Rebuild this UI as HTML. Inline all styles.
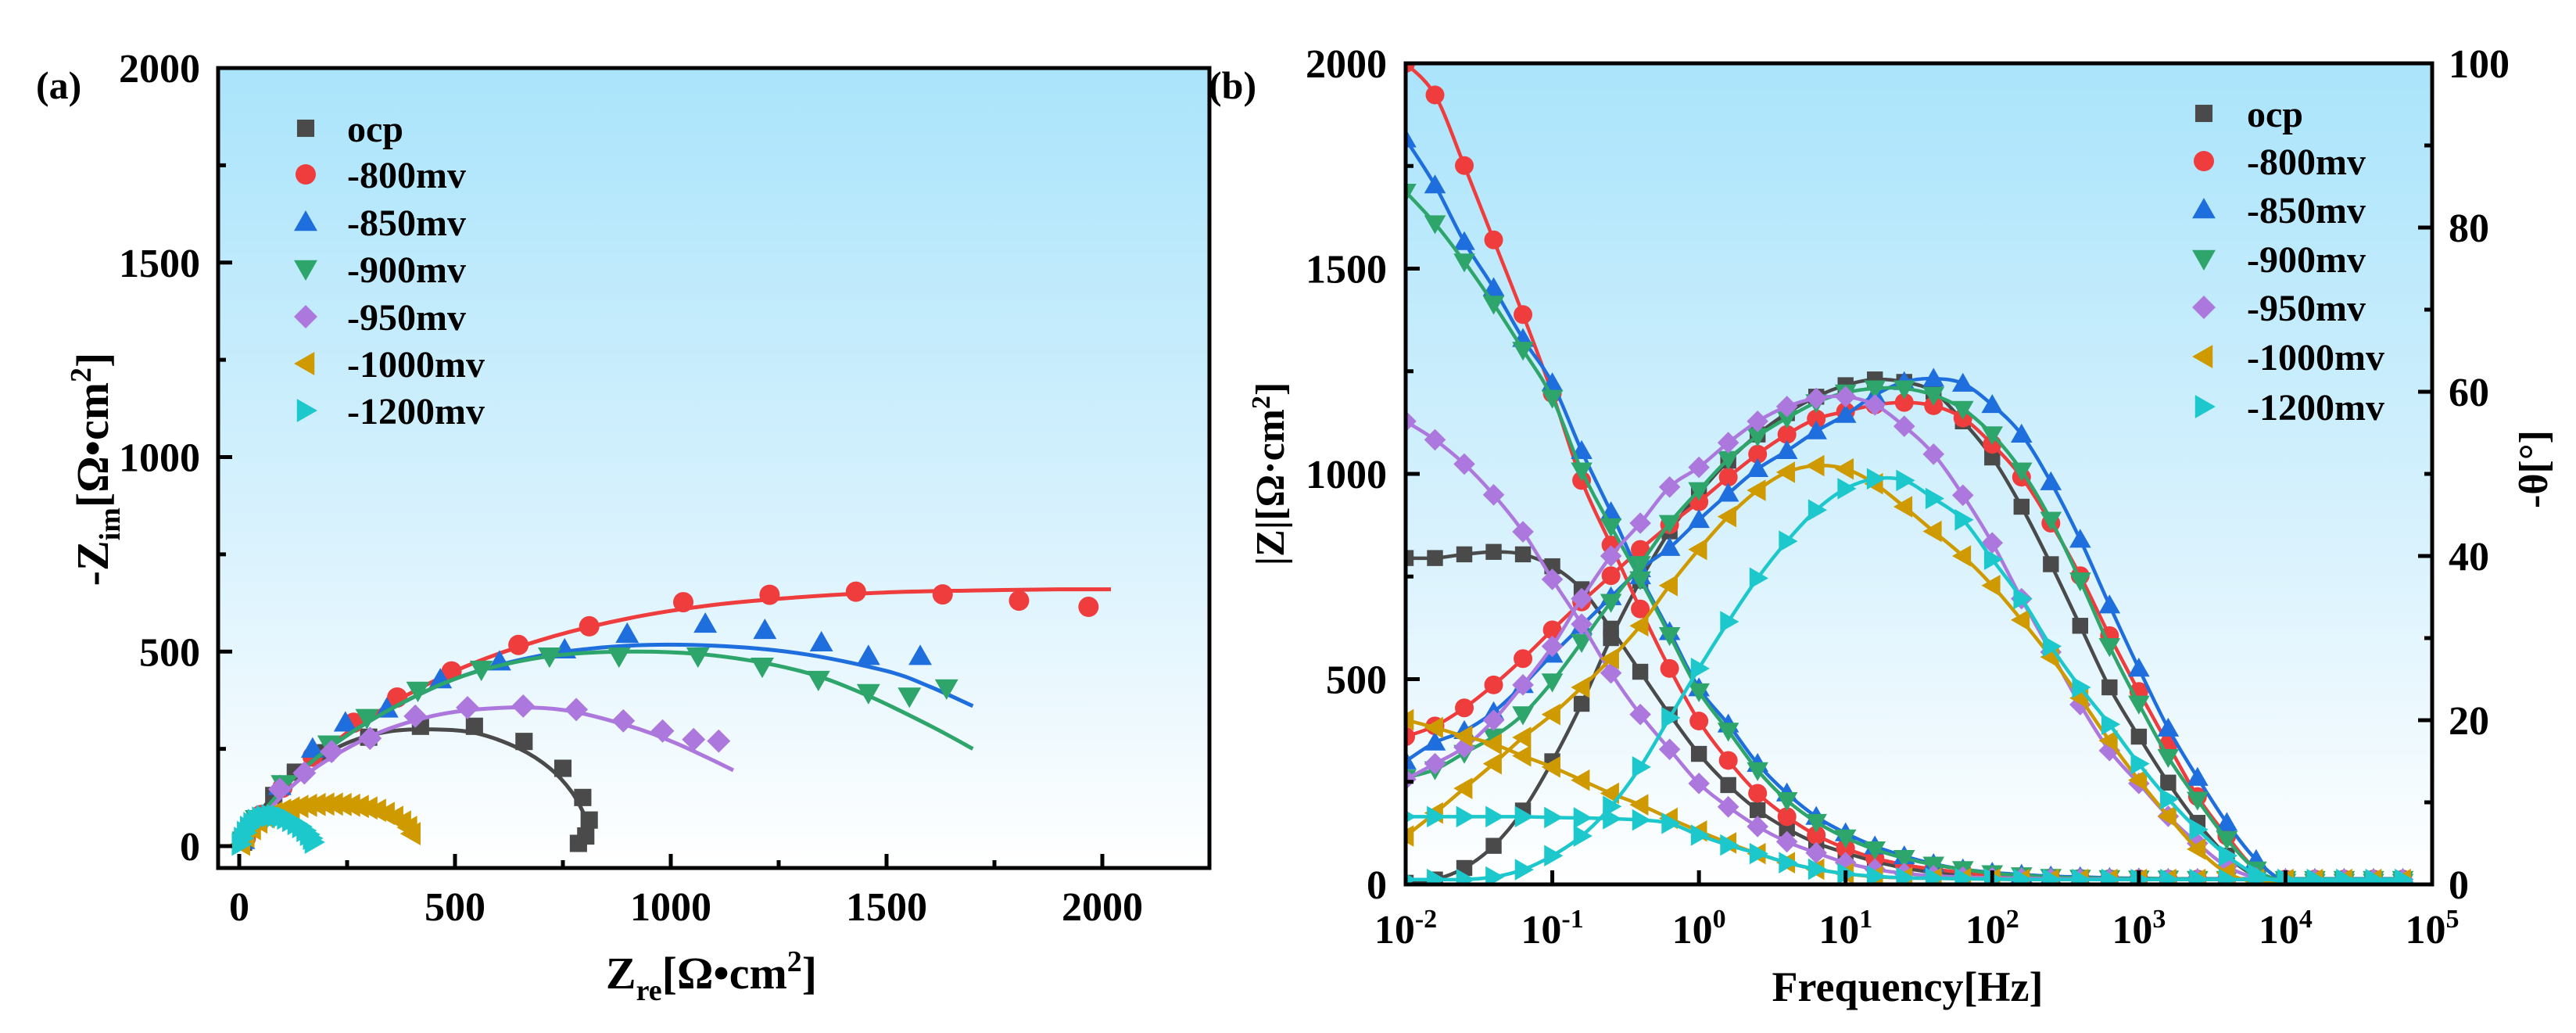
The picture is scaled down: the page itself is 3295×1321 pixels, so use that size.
<!DOCTYPE html>
<html><head><meta charset="utf-8"><style>
html,body{margin:0;padding:0;background:#fff;}
svg{display:block;font-family:"Liberation Serif",serif;font-weight:bold;}
</style></head><body>
<svg id="chart" width="3295" height="1321" viewBox="0 0 3295 1321" xmlns="http://www.w3.org/2000/svg">
<defs>
<linearGradient id="bg" x1="0" y1="0" x2="0" y2="1">
<stop offset="0" stop-color="#aae4fb"/><stop offset="0.55" stop-color="#d6f1fd"/><stop offset="1" stop-color="#ffffff"/>
</linearGradient>
<clipPath id="clipA"><rect x="279" y="87" width="1268" height="1023"/></clipPath>
<clipPath id="clipB"><rect x="1798" y="81" width="1313" height="1050"/></clipPath>
</defs>
<rect x="279" y="87" width="1268" height="1023" fill="url(#bg)"/>
<rect x="1798" y="81" width="1313" height="1050" fill="url(#bg)"/>
<g id="layerA" clip-path="url(#clipA)"></g>
<g id="layerB" clip-path="url(#clipB)"></g>
<g id="axes"></g>
<text x="46" y="126" font-size="50">(a)</text>
<text x="1546" y="126" font-size="50">(b)</text>
<text transform="translate(138,600) rotate(-90)" text-anchor="middle" font-size="58">-Z<tspan font-size="38" dy="15">im</tspan><tspan dy="-15">[Ω•cm</tspan><tspan font-size="38" dy="-22">2</tspan><tspan dy="22">]</tspan></text>
<text x="910" y="1264" text-anchor="middle" font-size="58">Z<tspan font-size="38" dy="15">re</tspan><tspan dy="-15">[Ω•cm</tspan><tspan font-size="38" dy="-22">2</tspan><tspan dy="22">]</tspan></text>
<text transform="translate(1642,606) rotate(-90)" text-anchor="middle" font-size="52">|Z|[Ω·cm<tspan font-size="34" dy="-18">2</tspan><tspan dy="18">]</tspan></text>
<text x="2440" y="1280" text-anchor="middle" font-size="54">Frequency[Hz]</text>
<text transform="translate(3258,600) rotate(-90)" text-anchor="middle" font-size="52">-θ[°]</text>
<g id="legends"></g>
</svg>
<script>
const NS='http://www.w3.org/2000/svg';
const seriesNames=['ocp','-800mv','-850mv','-900mv','-950mv','-1000mv','-1200mv'];
const seriesColors=['#4a4a4a','#ef3c3c','#1e6ede','#2ea56a','#ad78de','#cf9a00','#1cc8cc'];
const seriesShapes=['square','circle','up','down','diamond','left','right'];
// Nyquist data (Zre, -Zim)
const nyqX=[
 [10,40,80,130,200,300,420,545,660,750,796,811,803,786],
 [15,50,100,170,265,366,492,647,811,1029,1229,1429,1630,1807,1968],
 [10,40,94,170,246,342,466,603,754,899,1080,1218,1349,1458,1578],
 [10,40,100,208,296,414,561,719,880,1063,1212,1342,1458,1553,1639],
 [10,40,94,151,214,303,408,529,658,781,890,981,1053,1111],
 [5,15,30,45,62,80,100,120,140,160,180,200,220,240,260,280,300,320,340,360,378,392,400],
 [3,8,15,22,30,40,50,60,72,84,96,108,120,132,143,153,161,168,172]];
const nyqY=[
 [10,70,130,190,240,280,308,308,269,200,125,67,26,7],
 [20,80,150,230,317,382,449,517,565,627,646,654,647,631,615],
 [15,70,154,250,317,353,428,474,505,545,571,555,523,488,488],
 [15,70,160,262,330,400,454,488,488,488,462,428,394,385,406],
 [15,70,146,188,243,277,334,356,360,351,322,296,274,270],
 [5,25,45,62,75,85,92,98,102,105,107,108,108,107,105,102,98,92,84,74,62,48,32],
 [5,20,35,48,58,66,72,76,78,78,76,72,66,58,50,40,30,20,10]];
const fitX=[
 [0,30,80,150,250,350,450,550,650,720,770,800,815],
 [0,50,150,300,500,700,900,1100,1300,1500,1700,1900,2020],
 [0,50,150,300,500,700,900,1100,1300,1500,1600,1700],
 [0,50,150,300,500,700,900,1100,1300,1450,1600,1700],
 [0,50,150,300,450,600,750,900,1000,1080,1145],
 [0,50,100,200,300,350,380,400],
 [0,20,50,90,130,160,175]];
const fitY=[
 [0,60,130,200,265,295,300,290,250,200,140,80,40],
 [0,80,200,330,450,530,585,620,640,652,657,660,660],
 [0,80,200,320,430,490,515,515,495,450,410,360],
 [0,80,200,320,430,485,500,490,450,390,310,250],
 [0,70,180,280,335,355,350,310,270,230,195],
 [0,70,95,107,100,85,65,35],
 [0,45,70,78,68,45,20]];
// Bode data: log10(freq) grid
const logF=[-2,-1.8,-1.6,-1.4,-1.2,-1,-0.8,-0.6,-0.4,-0.2,0,0.2,0.4,0.6,0.8,1,1.2,1.4,1.6,1.8,2,2.2,2.4,2.6,2.8,3,3.2,3.4,3.6,3.8,4,4.2,4.4,4.6,4.8];
const modZ=[
 [795,795,804,810,804,775,719,623,518,414,318,242,181,136,101,77,56,40,29,21,16,15,14,13,12,12,12,12,12,12,12,12,12,12,12],
 [2000,1923,1751,1570,1388,1196,984,827,671,526,398,302,222,165,120,88,64,48,37,29,21,18,16,15,14,14,13,13,13,13,13,13,13,13,13],
 [1815,1703,1565,1453,1329,1221,1056,907,751,615,478,390,294,222,165,125,93,69,50,37,29,24,20,18,16,15,14,14,14,14,14,14,14,14,14],
 [1687,1610,1517,1414,1302,1185,1008,872,743,607,470,374,278,205,152,114,85,64,48,37,27,22,18,16,15,14,14,13,13,13,13,13,13,13,13],
 [1128,1083,1024,949,859,743,634,515,414,329,246,189,141,104,77,53,37,27,21,18,16,15,14,13,13,12,12,12,12,12,12,12,12,12,12],
 [401,382,361,342,313,286,254,222,194,161,130,101,75,53,37,26,19,16,15,14,13,12,12,12,12,12,12,12,12,12,12,12,12,12,12],
 [165,165,165,165,165,163,162,160,157,149,120,96,75,53,37,26,20,16,15,14,13,12,12,12,12,12,12,12,12,12,12,12,12,12,12]];
const phase=[
 [0.2,0.6,2,4.7,9,15,22,30,37,43,47.6,51.6,54.8,57.4,59.4,60.8,61.5,61.2,60,56.4,52,46,39,31.5,24,18,12.4,7.5,3.5,1,0.3,0.3,0.3,0.3,0.3],
 [18,19.3,21.5,24.3,27.5,31,34.4,37.6,40.8,43.8,46.6,49.6,52.4,54.8,56.7,57.6,58.4,58.7,58.3,56.8,53.6,49.6,44,37.6,30.3,23.5,17,10.7,5.9,1.8,0.3,0.3,0.3,0.3,0.3],
 [15,17.3,18.7,21,24.3,28,31.5,35,38.4,41,44.4,47.6,50.6,52.8,55.2,57.2,59.6,61.2,61.6,61,58.4,54.8,49,42,34,26.3,19,13,7.5,3,0.3,0.3,0.3,0.3,0.3],
 [13,14,16,18,20.7,24.7,29.5,34.4,39,44,48,51.8,54.6,56.8,58.7,59.9,60.4,60.4,59.6,57.9,54.8,50.4,44.4,37,29,22,15.5,10.3,5.5,1.8,0.3,0.3,0.3,0.3,0.3],
 [12.8,14.7,16.7,20,24.3,29,34.8,40,44,48.4,50.8,53.8,56.4,58.2,59.2,59.4,58.4,55.8,52.4,47.4,41.6,34.8,28.3,21.9,16.3,12.3,8.3,5,2.2,0.8,0.3,0.3,0.3,0.3,0.3],
 [5.9,8.7,11.7,14.7,17.9,20.7,24,27.5,31.5,36.4,40.8,44.8,48,50.2,51,50.6,48.8,46,43,40,36.4,32.2,27.7,22.7,17.5,12.7,8.3,4.3,1.4,0.3,0.3,0.3,0.3,0.3,0.3],
 [0.6,0.6,0.6,0.9,1.8,3.5,5.9,9.5,14.3,20.3,26.3,32,37.3,41.8,45.6,48.2,49.4,49.2,47,44.4,39.6,34.8,29,24,19.5,14.7,10.4,6.7,3.5,1.2,0.3,0.3,0.3,0.3,0.3]];
const tickA=[0,500,1000,1500,2000];
const tickBx=[-2,-1,0,1,2,3,4,5];
const tickBy=[0,500,1000,1500,2000];
const tickBy2=[0,20,40,60,80,100];

// axis functions
const ax=v=>306+v*0.552, ay=v=>1082-v*0.4975;
const bx=v=>1798+(v+2)*187.57, by=v=>1131-v*0.525, by2=v=>1131-v*10.5;

function el(tag,attrs,parent){const e=document.createElementNS(NS,tag);for(const k in attrs)e.setAttribute(k,attrs[k]);parent.appendChild(e);return e;}
function smooth(pts){let d='M'+pts[0][0].toFixed(1)+','+pts[0][1].toFixed(1);
 for(let i=0;i<pts.length-1;i++){const p0=pts[i-1]||pts[i],p1=pts[i],p2=pts[i+1],p3=pts[i+2]||p2;
  const c1=[p1[0]+(p2[0]-p0[0])/6,p1[1]+(p2[1]-p0[1])/6],c2=[p2[0]-(p3[0]-p1[0])/6,p2[1]-(p3[1]-p1[1])/6];
  d+='C'+c1.map(v=>v.toFixed(1))+' '+c2.map(v=>v.toFixed(1))+' '+p2[0].toFixed(1)+','+p2[1].toFixed(1);}
 return d;}
function marker(shape,x,y,r,color,parent){let e;
 if(shape==='square')e=el('rect',{x:x-r*0.85,y:y-r*0.85,width:r*1.7,height:r*1.7,fill:color},parent);
 else if(shape==='circle')e=el('circle',{cx:x,cy:y,r:r,fill:color},parent);
 else{let p;const a=r*1.15;
  if(shape==='up')p=[[x,y-a],[x+a,y+a*0.75],[x-a,y+a*0.75]];
  if(shape==='down')p=[[x,y+a],[x+a,y-a*0.75],[x-a,y-a*0.75]];
  if(shape==='left')p=[[x-a,y],[x+a*0.75,y-a],[x+a*0.75,y+a]];
  if(shape==='right')p=[[x+a,y],[x-a*0.75,y-a],[x-a*0.75,y+a]];
  if(shape==='diamond')p=[[x,y-a],[x+a,y],[x,y+a],[x-a,y]];
  e=el('polygon',{points:p.map(q=>q.join(',')).join(' '),fill:color},parent);}
 return e;}
const LA=document.getElementById('layerA'),LB=document.getElementById('layerB'),AX=document.getElementById('axes'),LG=document.getElementById('legends');
// Nyquist
for(let s=0;s<7;s++){
 const pts=fitX[s].map((v,i)=>[ax(v),ay(fitY[s][i])]);
 const fl=el('path',{d:smooth(pts),fill:'none',stroke:seriesColors[s],'stroke-width':5},LA);
 
 
 nyqX[s].forEach((v,i)=>{const m=marker(seriesShapes[s],ax(v),ay(nyqY[s][i]),13,seriesColors[s],LA);
  
  });
}
// Bode
for(let s=0;s<7;s++){
 const p1=logF.map((v,i)=>[bx(v),by(modZ[s][i])]);
 const l1=el('path',{d:smooth(p1),fill:'none',stroke:seriesColors[s],'stroke-width':4.5},LB);
 
 
 const p2=logF.map((v,i)=>[bx(v),by2(phase[s][i])]);
 const l2=el('path',{d:smooth(p2),fill:'none',stroke:seriesColors[s],'stroke-width':4.5},LB);
 
 
 logF.forEach((v,i)=>{
  const m1=marker(seriesShapes[s],bx(v),by(modZ[s][i]),12,seriesColors[s],LB);
  
  
  const m2=marker(seriesShapes[s],bx(v),by2(phase[s][i]),12,seriesColors[s],LB);
  
  });
}
// Frames
const fa=el('rect',{x:279,y:87,width:1268,height:1023,fill:'none',stroke:'#000','stroke-width':5},AX);

const fb=el('rect',{x:1798,y:81,width:1313,height:1050,fill:'none',stroke:'#000','stroke-width':5},AX);

function tline(x1,y1,x2,y2,name){const t=el('line',{x1,y1,x2,y2,stroke:'#000','stroke-width':5},AX);
 }
function label(x,y,txt,anchor,size,name){const t=el('text',{x,y,'text-anchor':anchor,'font-size':size},AX);t.textContent=txt;
 return t;}
// Plot A ticks
for(let v=0;v<=2250;v+=250){const x=ax(v);if(x>1545)break;tline(x,1110,x,1110-(v%500?10:18),'x-tick-a');}
for(let v=0;v<=2000;v+=250){const y=ay(v);tline(279,y,279+(v%500?10:18),y,'y-tick-a');}
tickA.forEach(v=>label(ax(v),1177,String(v),'middle',52,'x-tick-label-a'));
tickA.forEach(v=>label(256,ay(v)+18,String(v),'end',52,'y-tick-label-a'));
// Plot B ticks
tickBx.forEach(v=>{const x=bx(v);tline(x,1131,x,1113,'x-tick-b');
 const t=label(x,1206,'10','middle',52,'x-tick-label-b');const ts=el('tspan',{'font-size':34,dy:-20},t);ts.textContent=String(v);});
for(let v=0;v<=2000;v+=250){tline(1798,by(v),1798+(v%500?10:18),by(v),'y-tick-b');}
tickBy.forEach(v=>label(1774,by(v)+18,String(v),'end',52,'y-tick-label-b'));
for(let v=0;v<=100;v+=10){tline(3111,by2(v),3111-(v%20?10:18),by2(v),'y2-tick-b');}
tickBy2.forEach(v=>label(3132,by2(v)+18,String(v),'start',52,'y2-tick-label-b'));
// Legends
const legA=[164,223,284,344,405,465,525], legB=[145,206,268,331,393,456,520];
for(let s=0;s<7;s++){
 const m=marker(seriesShapes[s],391,legA[s],13,seriesColors[s],LG);
 
 const t=el('text',{x:444,y:legA[s]+17,'font-size':48},LG);t.textContent=seriesNames[s];
 
 const m2=marker(seriesShapes[s],2819,legB[s],13,seriesColors[s],LG);
 
 const t2=el('text',{x:2874,y:legB[s]+17,'font-size':48},LG);t2.textContent=seriesNames[s];
 
}
</script>
</body></html>
